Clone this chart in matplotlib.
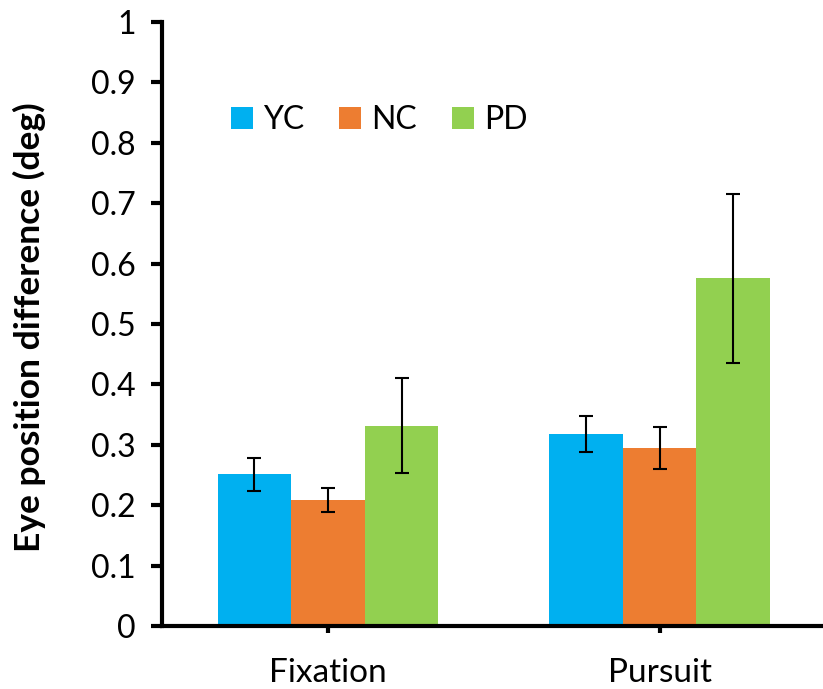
import matplotlib
matplotlib.use("Agg")
import matplotlib.pyplot as plt
import numpy as np

categories = ["Fixation", "Pursuit"]
groups = ["YC", "NC", "PD"]
yc = [0.251, 0.318]
nc = [0.209, 0.295]
pd_ = [0.332, 0.576]
yc_err = [0.027, 0.030]
nc_err = [0.020, 0.035]
pd_err = [0.078, 0.140]
colors = ["#00B0F0", "#ED7D31", "#92D050"]
yticks = [0, 0.1, 0.2, 0.3, 0.4, 0.5, 0.6, 0.7, 0.8, 0.9, 1]
ytick_labels = ["0", "0.1", "0.2", "0.3", "0.4", "0.5", "0.6", "0.7", "0.8", "0.9", "1"]

plt.rcParams['font.family'] = ['Lato', 'DejaVu Sans']

fig = plt.figure(figsize=(8.23, 6.89), dpi=100)
ax = fig.add_axes([0.197, 0.0914, 0.806, 0.8766])

x = np.arange(len(categories))
w = 0.222
for i, (vals, errs, c, g) in enumerate(zip([yc, nc, pd_], [yc_err, nc_err, pd_err], colors, groups)):
    ax.bar(x + (i - 1) * w, vals, w, color=c, label=g, zorder=2)
    ax.errorbar(x + (i - 1) * w, vals, yerr=errs, fmt='none', ecolor='black',
                elinewidth=1.5, capsize=5, capthick=1.5, zorder=3)

ax.set_xlim(-0.5, 1.5)
ax.set_ylim(0, 1)
ax.set_yticks(yticks)
ax.set_yticklabels(ytick_labels)
ax.set_xticks(x)
ax.set_xticklabels(categories)
for s in ["top", "right"]:
    ax.spines[s].set_visible(False)
for s in ["left", "bottom"]:
    ax.spines[s].set_linewidth(3)
ax.tick_params(axis='y', direction='out', length=8, width=3, labelsize=23, pad=11)
ax.tick_params(axis='x', direction='out', length=5, width=3, labelsize=24, pad=18)
ax.set_ylabel("Eye position difference (deg)", fontsize=25.5, fontweight='bold')
ax.yaxis.set_label_coords(-0.175, 0.495)

ax.legend(loc='upper left', bbox_to_anchor=(0.06, 0.91), ncol=3, frameon=False,
          fontsize=23, handlelength=0.7, handleheight=0.7, handletextpad=0.3,
          columnspacing=1.1)

fig.savefig("out.png", dpi=100)
